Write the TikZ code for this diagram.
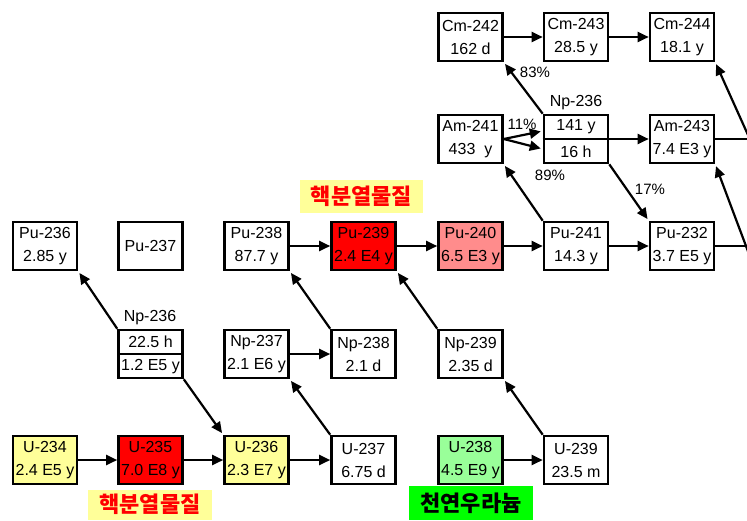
\documentclass[tikz,border=0pt]{standalone}
\usepackage{fontspec}
\setmainfont{Liberation Sans}
\newfontfamily\krfont{Noto Sans CJK KR}
\usetikzlibrary{arrows.meta}
\definecolor{lyellow}{HTML}{FFFF99}
\definecolor{redbox}{HTML}{FF0000}
\definecolor{pinkbox}{HTML}{FF8C8C}
\definecolor{lgreen}{HTML}{99FF99}
\definecolor{vgreen}{HTML}{00FF00}
\begin{document}
\begin{tikzpicture}[x=1pt,y=-1pt,
  nbox/.style={draw, line width=2.6pt, minimum width=64pt, minimum height=48pt,
    inner sep=0pt, align=center, font=\fontsize{16}{23}\selectfont},
  htxt/.style={inner sep=0pt, font=\fontsize{16}{18}\selectfont},
  lbl/.style={inner sep=0pt, font=\fontsize{15}{16}\selectfont},
  arr/.style={line width=2.2pt, -{Triangle[length=11pt,width=10pt]}},
  arrd/.style={arr, shorten >=2pt},
  plain/.style={line width=2.2pt},
  krlabel/.style={inner sep=0pt, font=\krfont\bfseries\fontsize{22}{22}\selectfont}]
\useasboundingbox (0,0) rectangle (747,520);
\clip (0,0) rectangle (747,520);

% labels
\node[krlabel, fill=lyellow, text=redbox, minimum width=123pt, minimum height=33pt] (lab1) at (361.5,196.5) {핵분열물질};
\node[krlabel, fill=lyellow, text=redbox, minimum width=124pt, minimum height=30pt] (lab2) at (150,504.5) {핵분열물질};
\node[krlabel, fill=vgreen, text=black, minimum width=124pt, minimum height=34pt] (lab3) at (471,503) {천연우라늄};

% Cm row
\node[nbox] (cm242) at (470.5,37) {Cm-242\\162 d};
\node[nbox] (cm243) at (576,37) {Cm-243\\28.5 y};
\node[nbox] (cm244) at (682,37) {Cm-244\\18.1 y};
% Am row
\node[nbox] (am241) at (470.5,139) {Am-241\\433\ \ y};
\node[nbox] (npB) at (576,139) {};
\node[nbox] (am243) at (682,139) {Am-243\\7.4 E3 y};
% Pu row
\node[nbox] (pu236) at (45,246) {Pu-236\\2.85 y};
\node[nbox] (pu237) at (150.5,246) {Pu-237};
\node[nbox] (pu238) at (256.5,246) {Pu-238\\87.7 y};
\node[nbox, fill=redbox] (pu239) at (363.5,246) {Pu-239\\2.4 E4 y};
\node[nbox, fill=pinkbox] (pu240) at (470.5,246) {Pu-240\\6.5 E3 y};
\node[nbox] (pu241) at (576,246) {Pu-241\\14.3 y};
\node[nbox] (pu232) at (682,246) {Pu-232\\3.7 E5 y};
% Np row
\node[nbox] (npA) at (150.5,354) {};
\node[nbox] (np237) at (256.5,354) {Np-237\\2.1 E6 y};
\node[nbox] (np238) at (363.5,354) {Np-238\\2.1 d};
\node[nbox] (np239) at (470.5,354) {Np-239\\2.35 d};
% U row
\node[nbox, fill=lyellow] (u234) at (45,460) {U-234\\2.4 E5 y};
\node[nbox, fill=redbox] (u235) at (150.5,460) {U-235\\7.0 E8 y};
\node[nbox, fill=lyellow] (u236) at (256.5,460) {U-236\\2.3 E7 y};
\node[nbox] (u237) at (363.5,460) {U-237\\6.75 d};
\node[nbox, fill=lgreen] (u238) at (470.5,460) {U-238\\4.5 E9 y};
\node[nbox] (u239) at (576,460) {U-239\\23.5 m};

% split boxes
\draw[line width=1.6pt] (npA.west) -- (npA.east);
\node[htxt] (npAt) at (150.5,342) {22.5 h};
\node[htxt] (npAb) at (150.5,366.5) {1.2 E5 y};
\node[htxt] (npAl) at (150,318) {Np-236};
\draw[line width=1.6pt] (npB.west) -- (npB.east);
\node[htxt] (npBt) at (576,127) {141 y};
\node[htxt] (npBb) at (576,151.5) {16 h};
\node[htxt] (npBl) at (576,103) {Np-236};

% percentages
\node[lbl] (p11) at (522,124) {11\%};
\node[lbl] (p89) at (550,175) {89\%};
\node[lbl] (p83) at (535,72) {83\%};
\node[lbl] (p17) at (650,189) {17\%};

% horizontal arrows
\draw[arr] (cm242) -- (cm243);
\draw[arr] (cm243) -- (cm244);
\draw[arr] (npB) -- (am243);
\draw[arr] (pu238) -- (pu239);
\draw[arr] (pu239) -- (pu240);
\draw[arr] (pu240) -- (pu241);
\draw[arr] (pu241) -- (pu232);
\draw[arr] (np237) -- (np238);
\draw[arr] (u234) -- (u235);
\draw[arr] (u235) -- (u236);
\draw[arr] (u236) -- (u237);
\draw[arr] (u238) -- (u239);
\draw[arr, shorten >=2pt] (am241.east) -- ([yshift=8pt]npB.west);
\draw[arr, shorten >=2pt] (am241.east) -- ([yshift=-10pt]npB.west);

% diagonal arrows
\draw[arrd] (npA.north west) -- (pu236.south east);
\draw[arrd] (npA.south east) -- (u236.north west);
\draw[arrd] (u237.north west) -- (np237.south east);
\draw[arrd] (np238.north west) -- (pu238.south east);
\draw[arrd] (np239.north west) -- (pu239.south east);
\draw[arrd] (u239.north west) -- (np239.south east);
\draw[arrd] (pu241.north west) -- (am241.south east);
\draw[arrd] (npB.north west) -- (cm242.south east);
\draw[arrd] (npB.south east) -- (pu232.north west);

% off-picture connectors
\coordinate (off1) at (757,155);
\coordinate (off2) at (752,262);
\coordinate (off3) at (770,139);
\coordinate (off4) at (770,246);
\draw[arrd] (off1) -- (cm244.south east);
\draw[arrd] (off2) -- (am243.south east);
\draw[plain] (am243) -- (off3);
\draw[plain] (pu232) -- (off4);
\end{tikzpicture}
\end{document}
